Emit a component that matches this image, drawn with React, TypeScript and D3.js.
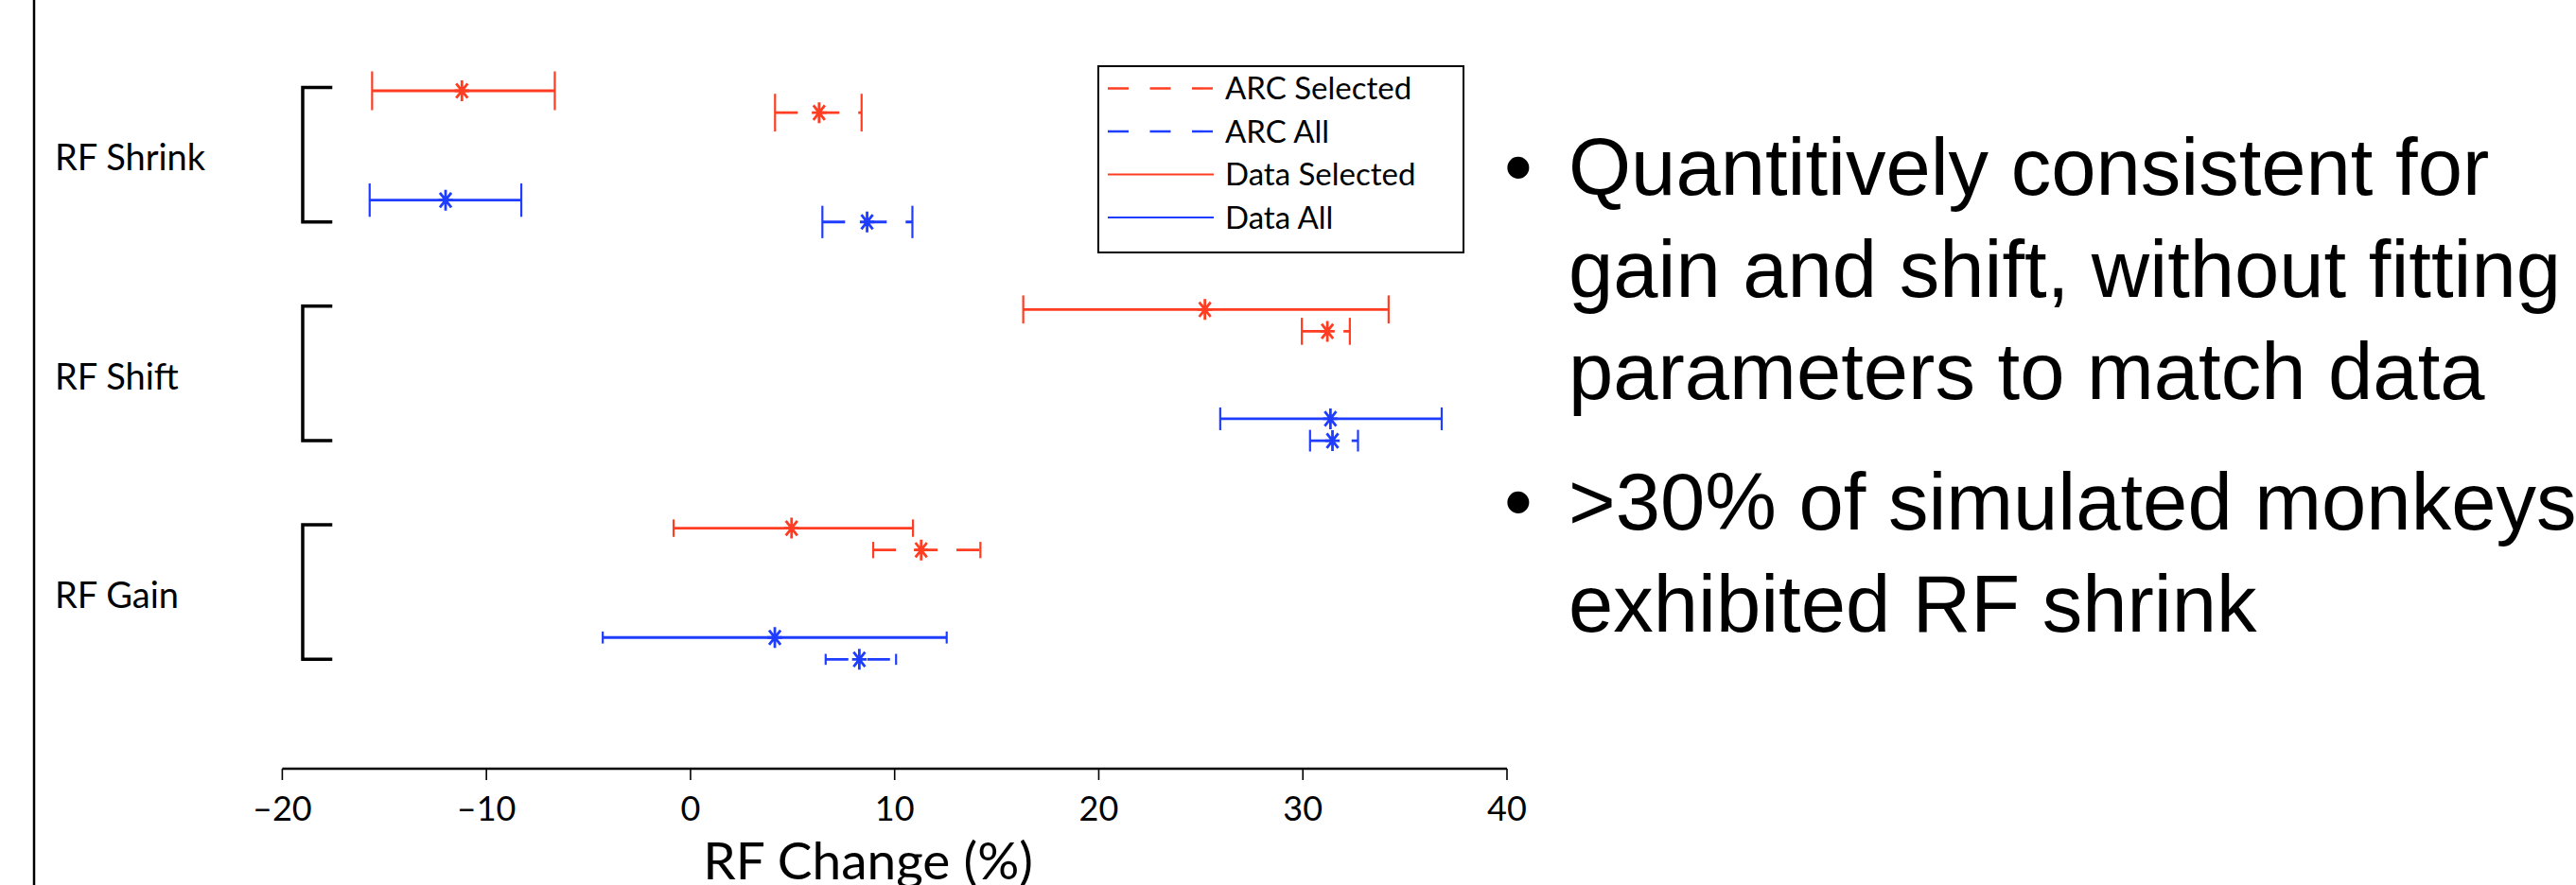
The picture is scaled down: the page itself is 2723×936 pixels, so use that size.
import React, { useEffect } from 'react';
import * as d3 from 'd3';

// groups, top to bottom
const categories = ['RF Shrink', 'RF Shift', 'RF Gain'];

// each series: mean and interval ends, one value per category (RF change, %)
const dataSelectedMean = [-11.2, 25.2, 4.95];
const dataSelectedLow = [-15.6, 16.3, -0.83];
const dataSelectedHigh = [-6.65, 34.2, 10.9];

const arcSelectedMean = [6.3, 31.2, 11.3];
const arcSelectedLow = [4.14, 29.95, 8.95];
const arcSelectedHigh = [8.38, 32.3, 14.2];

const dataAllMean = [-12.0, 31.35, 4.13];
const dataAllLow = [-15.72, 25.95, -4.3];
const dataAllHigh = [-8.29, 36.8, 12.55];

const arcAllMean = [8.65, 31.45, 8.27];
const arcAllLow = [6.46, 30.35, 6.62];
const arcAllHigh = [10.87, 32.7, 10.07];

const xTicks = [-20, -10, 0, 10, 20, 30, 40];
const xLabel = 'RF Change (%)';

const legendLabels = ['ARC Selected', 'ARC All', 'Data Selected', 'Data All'];

const bullets = [
  ['Quantitively consistent for', 'gain and shift, without fitting', 'parameters to match data'],
  ['>30% of simulated monkeys', 'exhibited RF shrink'],
];

const RED = '#ff3d22';
const BLUE = '#1f3dff';
const FONT = "Lato, 'Open Sans', sans-serif";
const SLIDE_FONT = "'Liberation Sans', Arial, sans-serif";

const W = 2723;
const H = 936;

// series order inside each group and the row offset (in row units) it sits on
const series = [
  { name: 'Data Selected', mean: dataSelectedMean, lo: dataSelectedLow, hi: dataSelectedHigh, color: RED, dashed: false, offset: 0 },
  { name: 'ARC Selected', mean: arcSelectedMean, lo: arcSelectedLow, hi: arcSelectedHigh, color: RED, dashed: true, offset: 1 },
  { name: 'Data All', mean: dataAllMean, lo: dataAllLow, hi: dataAllHigh, color: BLUE, dashed: false, offset: 5 },
  { name: 'ARC All', mean: arcAllMean, lo: arcAllLow, hi: arcAllHigh, color: BLUE, dashed: true, offset: 6 },
];

const legendStyle: Record<string, { color: string; dashed: boolean }> = {
  'ARC Selected': { color: RED, dashed: true },
  'ARC All': { color: BLUE, dashed: true },
  'Data Selected': { color: RED, dashed: false },
  'Data All': { color: BLUE, dashed: false },
};

const starPath = (cx: number, cy: number, r: number) =>
  `M${cx},${cy - r}V${cy + r}` +
  `M${cx - r * 0.55},${cy - r * 0.7}L${cx + r * 0.55},${cy + r * 0.7}` +
  `M${cx - r * 0.55},${cy + r * 0.7}L${cx + r * 0.55},${cy - r * 0.7}` +
  `M${cx - r * 0.7},${cy}H${cx + r * 0.7}`;

const App = () => {
  useEffect(() => {
    document.body.style.margin = '0';
  }, []);

  const x = d3.scaleLinear().domain([-20, 40]).range([298.4, 1593]);
  const y = d3.scaleLinear().domain([0, 31]).range([96, 813]);
  const axisY = y(31);

  // cap height shrinks going down the chart, as in the original
  const capHeight = (row: number) => 41 - 1.13 * row;

  const legend = { x0: 1161, y0: 70, x1: 1547, y1: 267 };
  const legendRowY = d3.scalePoint().domain(legendLabels).range([93.5, 230]);

  const slideBaselines = [[206, 314, 422], [560, 668]];

  return (
    <svg width={W} height={H} style={{ display: 'block', background: '#fff' }}>
      {/* slide border on the left */}
      <line x1={36} x2={36} y1={0} y2={H} stroke="#000" strokeWidth={2.5} />

      {/* group brackets and labels */}
      {categories.map((c, g) => {
        const top = y(g * 10 - 0.15);
        const bottom = y(g * 10 + 6);
        const bx = x(-19);
        const bx2 = x(-17.55);
        return (
          <g key={c}>
            <path
              d={`M${bx2},${top}H${bx}V${bottom}H${bx2}`}
              fill="none"
              stroke="#000"
              strokeWidth={3.5}
            />
            <text x={58} y={y(g * 10 + 3) + 15} fontFamily={FONT} fontSize={38} fill="#000">
              {c}
            </text>
          </g>
        );
      })}

      {/* error bars */}
      {categories.map((c, g) =>
        series.map((s) => {
          const row = g * 10 + s.offset;
          const cy = y(row);
          const half = capHeight(row) / 2;
          const xl = x(s.lo[g]);
          const xr = x(s.hi[g]);
          const xm = x(s.mean[g]);
          return (
            <g key={c + s.name} stroke={s.color} fill="none">
              <line
                x1={xl}
                x2={xr}
                y1={cy}
                y2={cy}
                strokeWidth={2.8}
                strokeDasharray={s.dashed ? '24 20' : undefined}
              />
              <line x1={xl} x2={xl} y1={cy - half} y2={cy + half} strokeWidth={2.2} />
              <line x1={xr} x2={xr} y1={cy - half} y2={cy + half} strokeWidth={2.2} />
              <path d={starPath(xm, cy, 11)} strokeWidth={2.8} />
            </g>
          );
        })
      )}

      {/* x axis */}
      <line x1={x(-20)} x2={x(40)} y1={axisY} y2={axisY} stroke="#000" strokeWidth={2.5} />
      {xTicks.map((t) => (
        <g key={t}>
          <line x1={x(t)} x2={x(t)} y1={axisY} y2={axisY + 12} stroke="#000" strokeWidth={1.6} />
          <text
            x={x(t)}
            y={868}
            textAnchor="middle"
            fontFamily={FONT}
            fontSize={36}
            fill="#000"
          >
            {t < 0 ? `\u2013${Math.abs(t)}` : t}
          </text>
        </g>
      ))}
      <text x={x(8.7)} y={930} textAnchor="middle" fontFamily={FONT} fontSize={55} fill="#000">
        {xLabel}
      </text>

      {/* legend */}
      <rect
        x={legend.x0}
        y={legend.y0}
        width={legend.x1 - legend.x0}
        height={legend.y1 - legend.y0}
        fill="#fff"
        stroke="#000"
        strokeWidth={2}
      />
      {legendLabels.map((l) => {
        const ly = legendRowY(l) as number;
        const st = legendStyle[l];
        return (
          <g key={l}>
            <line
              x1={1171}
              x2={1283}
              y1={ly}
              y2={ly}
              stroke={st.color}
              strokeWidth={st.dashed ? 2.4 : 1.8}
              strokeDasharray={st.dashed ? '22 22.5' : undefined}
            />
            <text x={1295} y={ly + 11.5} fontFamily={FONT} fontSize={33} fill="#000">
              {l}
            </text>
          </g>
        );
      })}

      {/* slide bullets */}
      {bullets.map((lines, i) => (
        <g key={i} fontFamily={SLIDE_FONT} fontSize={85} fill="#000">
          <text x={1590} y={slideBaselines[i][0]}>{'\u2022'}</text>
          {lines.map((ln, j) => (
            <text key={j} x={1658} y={slideBaselines[i][j]}>
              {ln}
            </text>
          ))}
        </g>
      ))}
    </svg>
  );
};

export default App;
